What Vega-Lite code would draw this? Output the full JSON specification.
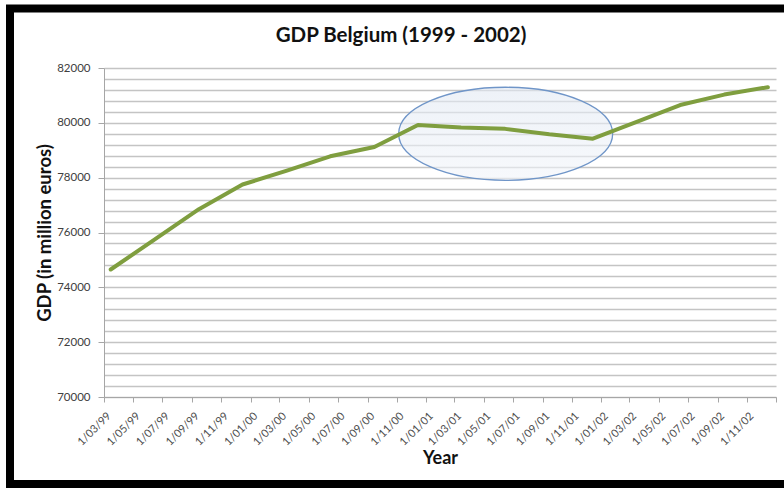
{
  "$schema": "https://vega.github.io/schema/vega-lite/v6.json",
  "width": 672,
  "height": 329,
  "autosize": {"type": "none"},
  "padding": {"left": 104, "top": 68, "right": 8, "bottom": 92},
  "background": "white",
  "config": {"view": {"stroke": null}, "font": "Lato"},
  "title": {
    "text": "GDP Belgium (1999 - 2002)",
    "font": "Lato",
    "fontSize": 20.5,
    "fontWeight": "bold",
    "color": "#111111",
    "anchor": "middle",
    "frame": "group",
    "baseline": "alphabetic",
    "dx": -39,
    "offset": -58
  },
  "datasets": {
    "gdp": [
      {"date": "1999-03-15", "gdp": 74650},
      {"date": "1999-06-15", "gdp": 75750},
      {"date": "1999-09-15", "gdp": 76850},
      {"date": "1999-12-15", "gdp": 77750},
      {"date": "2000-03-15", "gdp": 78250},
      {"date": "2000-06-15", "gdp": 78780},
      {"date": "2000-09-15", "gdp": 79120},
      {"date": "2000-12-15", "gdp": 79920},
      {"date": "2001-03-15", "gdp": 79830},
      {"date": "2001-06-15", "gdp": 79780},
      {"date": "2001-09-15", "gdp": 79580},
      {"date": "2001-12-15", "gdp": 79420},
      {"date": "2002-03-15", "gdp": 80030},
      {"date": "2002-06-15", "gdp": 80650},
      {"date": "2002-09-15", "gdp": 81030},
      {"date": "2002-12-15", "gdp": 81300}
    ],
    "highlight": [
      {"date": "2001-06-16", "gdp": 79600}
    ]
  },
  "encoding": {
    "x": {
      "field": "date",
      "type": "temporal",
      "scale": {
        "type": "utc",
        "domain": [
          {"year": 1999, "month": 3, "date": 1, "utc": true},
          {"year": 2003, "month": 1, "date": 1, "utc": true}
        ]
      },
      "axis": {
        "title": "Year",
        "titleFont": "Lato",
        "titleFontSize": 18,
        "titleFontWeight": "bold",
        "titleColor": "#111111",
        "titleY": 66,
        "titleBaseline": "alphabetic",
        "tickCount": {"interval": "month", "step": 2},
        "format": "%-d/%m/%y",
        "labelExpr": "utcyear(datum.value) === 2003 ? '' : datum.label",
        "labelAngle": -45,
        "labelAlign": "right",
        "labelBaseline": "middle",
        "labelPadding": 12,
        "labelOffset": 5,
        "labelFont": "Lato",
        "labelFontSize": 11,
        "labelColor": "#4d4d4d",
        "labelOverlap": false,
        "labelFlush": false,
        "grid": false,
        "domainColor": "#a6a6a6",
        "domainWidth": 1,
        "tickColor": "#a6a6a6",
        "tickSize": 5
      }
    },
    "y": {
      "field": "gdp",
      "type": "quantitative",
      "scale": {"domain": [70000, 82000], "nice": false, "zero": false},
      "axis": {
        "title": "GDP (in million euros)",
        "titleFont": "Lato",
        "titleFontSize": 18.5,
        "titleFontWeight": "bold",
        "titleColor": "#111111",
        "titleX": -60,
        "titleBaseline": "middle",
        "values": [70000, 70400, 70800, 71200, 71600, 72000, 72400, 72800, 73200, 73600, 74000, 74400, 74800, 75200, 75600, 76000, 76400, 76800, 77200, 77600, 78000, 78400, 78800, 79200, 79600, 80000, 80400, 80800, 81200, 81600, 82000],
        "format": "d",
        "labelExpr": "datum.value % 2000 === 0 ? datum.label : ''",
        "labelFont": "Lato",
        "labelFontSize": 11.5,
        "labelColor": "#404040",
        "labelPadding": 8,
        "tickSize": 6,
        "tickColor": "#a6a6a6",
        "tickOpacity": {"condition": {"test": "datum.value % 2000 === 0", "value": 1}, "value": 0},
        "domainColor": "#a6a6a6",
        "grid": true,
        "gridColor": "#c4c4c4",
        "gridWidth": 1.3
      }
    }
  },
  "layer": [
    {
      "data": {"name": "highlight"},
      "mark": {
        "type": "point",
        "filled": true,
        "shape": "M-1,0C-1,-0.24,-0.5523,-0.435,0,-0.435C0.5523,-0.435,1,-0.24,1,0C1,0.24,0.5523,0.435,0,0.435C-0.5523,0.435,-1,0.24,-1,0Z",
        "size": 45796,
        "fill": {
          "gradient": "linear",
          "x1": 0, "y1": 0, "x2": 0, "y2": 1,
          "stops": [
            {"offset": 0, "color": "#e2e9f3"},
            {"offset": 1, "color": "#f2f5fa"}
          ]
        },
        "fillOpacity": 0.6,
        "stroke": "#6f95c8",
        "strokeWidth": 1.3,
        "strokeOpacity": 1
      }
    },
    {
      "data": {"name": "gdp"},
      "mark": {
        "type": "line",
        "color": "#7f9e3f",
        "strokeWidth": 4,
        "strokeCap": "round",
        "strokeJoin": "round"
      }
    },
    {
      "data": {"values": [{}]},
      "mark": {"type": "rect", "fill": null, "stroke": "#000000", "strokeWidth": 8},
      "encoding": {
        "x": {"value": -94},
        "x2": {"value": 700},
        "y": {"value": -59.5},
        "y2": {"value": 416}
      }
    }
  ]
}
